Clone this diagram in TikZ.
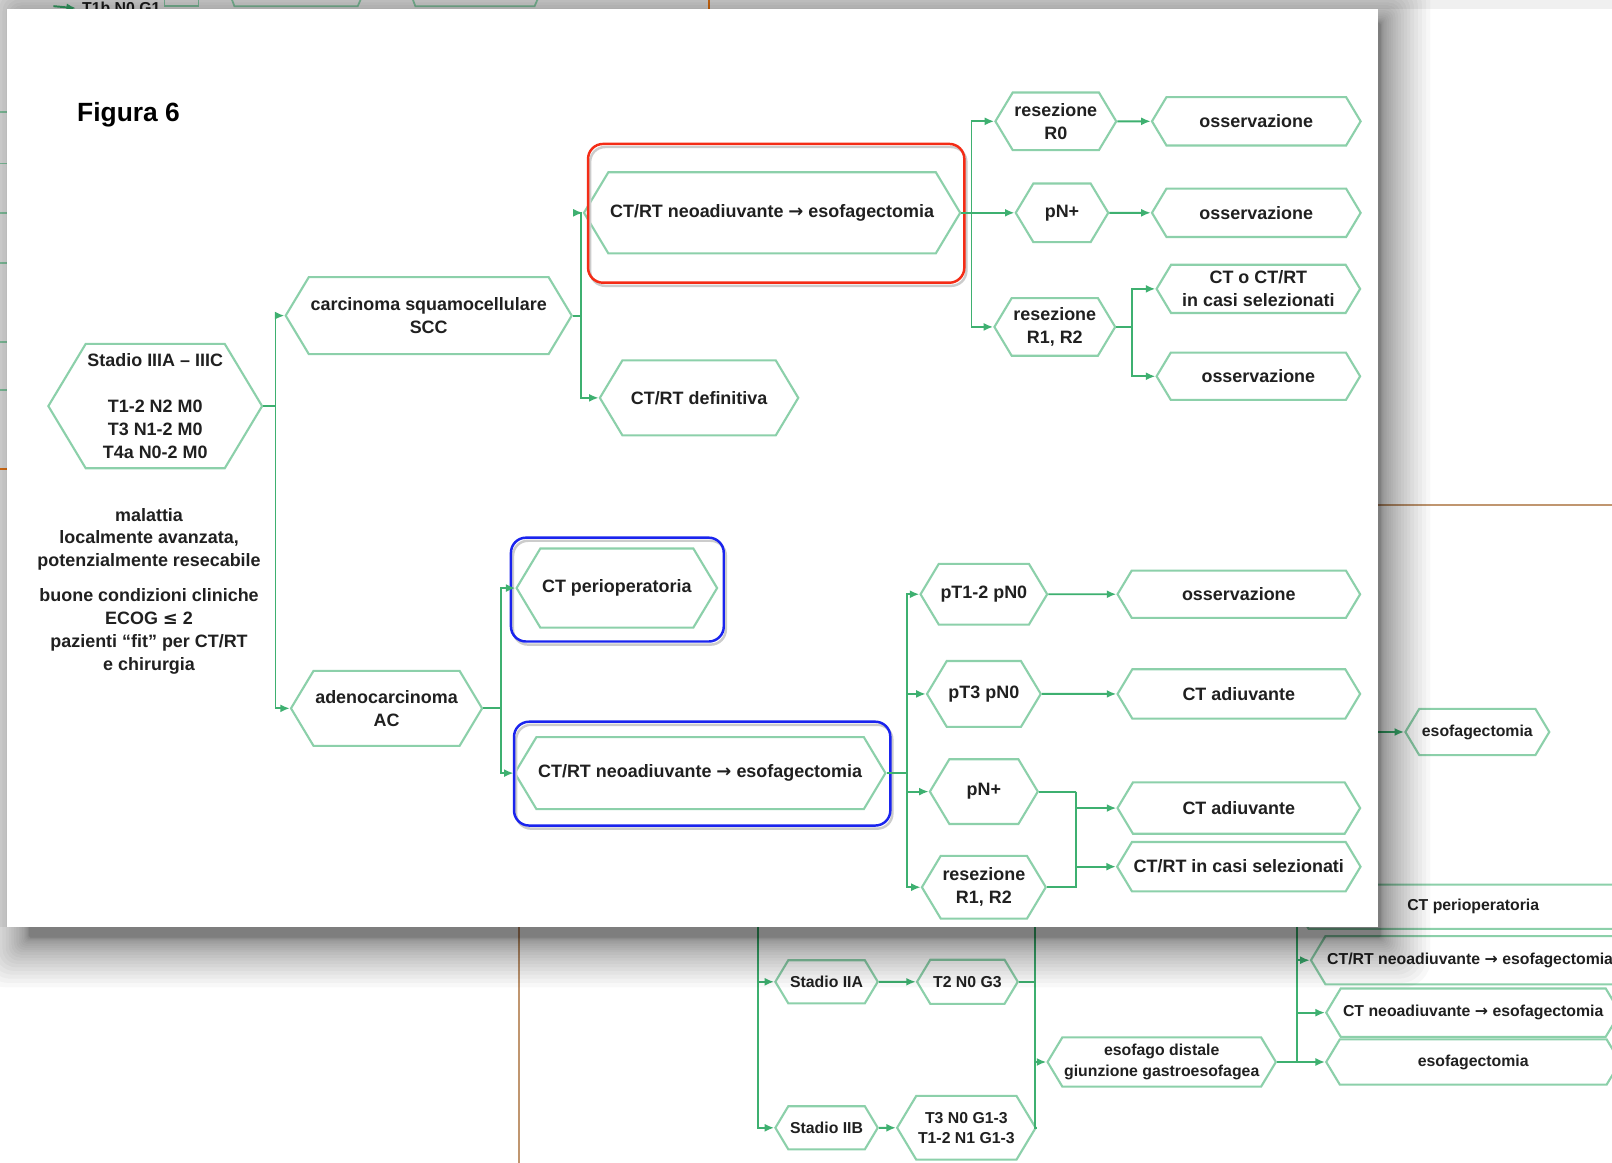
\documentclass[tikz,border=0pt]{standalone}
\usepackage{fontspec}
\setmainfont{Liberation Sans}
\newfontfamily\arrowfont{DejaVu Sans}
\usetikzlibrary{arrows.meta,positioning,shapes.symbols}
\definecolor{flowGreen}{RGB}{62,176,112}
\definecolor{hexBorder}{RGB}{140,208,170}
\definecolor{boxRed}{RGB}{244,44,22}
\definecolor{boxBlue}{RGB}{26,36,238}
\definecolor{slideOrange}{RGB}{236,122,24}
\definecolor{slideTan}{RGB}{192,150,112}
\definecolor{inkGray}{RGB}{32,32,32}
\newcommand{\goesto}{{\arrowfont\bfseries →}}
\tikzset{
  hexa/.style 2 args={shape=signal, signal to=west and east, signal pointer angle=118,
    draw=hexBorder, line width=1.2pt, fill=white, inner sep=1pt, align=center,
    minimum width=#1*0.02056cm, minimum height=#2*0.02056cm,
    text=inkGray, font=\fontsize{10.2}{13}\selectfont\bfseries},
  bghexa/.style 2 args={hexa={#1}{#2}, font=\fontsize{9}{11.5}\selectfont\bfseries},
  link/.style={draw=flowGreen, line width=1.1pt},
  arr/.style={link, -{Latex[length=1.9mm,width=1.6mm]}},
  hilite/.style={rounded corners=0.3cm, line width=1.4pt},
}

\begin{document}
\begin{tikzpicture}[x=0.02056cm,y=-0.02056cm]
  \clip (0,0) rectangle (1568,1131);
  \fill[white] (0,0) rectangle (1568,1131);

  % slide behind the window
  \fill[black!6] (0,0) rectangle (1568,9);
  \fill[black!6] (0,0) rectangle (7,902);
  \draw[slideOrange,line width=1pt] (690,0) -- (690,9);
  \draw[slideOrange,line width=1pt] (0,456) -- (7,456);
  \draw[slideTan,line width=1pt] (1340,491) -- (1568,491);
  \draw[slideTan,line width=1pt] (505,902) -- (505,1131);
  \draw[hexBorder,line width=1pt] (160,-10) -- (160,6) -- (193,6) -- (193,-10);
  \draw[hexBorder,line width=1pt] (222,-10) -- (228,6) -- (348,6) -- (355,-10);
  \draw[hexBorder,line width=1pt] (398,-10) -- (404,6) -- (520,6) -- (527,-10);
  \node[font=\fontsize{9}{11}\selectfont\bfseries,text=inkGray] (frag) at (118,8) {T1b N0 G1};
  \coordinate (fragin) at (52,6);
  \draw[arr] (fragin) -- (frag.west);
  \foreach \yy in {109,159,207,256,333,379}
    \draw[hexBorder,line width=1pt] (0,\yy) -- (7,\yy);

  \node[bghexa={84}{42}] (stIIA) at (804,955) {Stadio IIA};
  \node[bghexa={98}{43}] (tIIA) at (941,955) {T2 N0 G3};
  \node[bghexa={84}{42}] (stIIB) at (804,1097) {Stadio IIB};
  \node[bghexa={100}{62}] (tIIB) at (940,1097) {T3 N0 G1-3\\T1-2 N1 G1-3};
  \node[bghexa={210}{48}] (distal) at (1130,1033) {esofago distale\\giunzione gastroesofagea};
  \node[bghexa={346}{43}] (periB) at (1433,882) {CT perioperatoria};
  \node[bghexa={290}{47}] (ctrtB) at (1430,934) {CT/RT neoadiuvante \goesto{} esofagectomia};
  \node[bghexa={286}{47}] (ctneoB) at (1433,985) {CT neoadiuvante \goesto{} esofagectomia};
  \node[bghexa={286}{44}] (esofB) at (1433,1033) {esofagectomia};
  \node[bghexa={140}{45}] (esofR) at (1437,712) {esofagectomia};
  \coordinate (bgA) at (737,880);
  \coordinate (bgB) at (1007,880);
  \coordinate (bgC) at (1262,880);
  \coordinate (bgR) at (1320,712);
  \draw[arr] (bgA) |- (stIIA.west);
  \draw[arr] (bgA) |- (stIIB.west);
  \draw[arr] (stIIA) -- (tIIA);
  \draw[arr] (stIIB) -- (tIIB);
  \draw[link] (tIIA.east) -- (tIIA.east -| bgB);
  \draw[link] (bgB) |- (tIIB.east);
  \draw[arr] (bgB) |- (distal.west);
  \draw[link] (distal.east) -- (distal.east -| bgC);
  \draw[arr] (bgC) |- (ctrtB.west);
  \draw[arr] (bgC) |- (ctneoB.west);
  \draw[arr] (bgC) |- (esofB.west);
  \draw[arr] (bgR) -- (esofR.west);

  % window shadow and card
  \foreach \i in {0,...,22}{
    \pgfmathsetmacro{\rr}{0.1*\i*\i}
    \fill[black,opacity=0.026,rounded corners=\rr*0.3pt+1pt]
      (28-\rr,22-\rr) rectangle (1343+\rr,912+\rr);
  }
  \fill[white] (7,9) rectangle (1340,902);

  \node[font=\fontsize{15}{17}\selectfont\bfseries] (title) at (125,112) {Figura 6};

  \node[hexa={198}{121}] (stadio) at (151,395) {Stadio IIIA -- IIIC\\[13pt]T1-2 N2 M0\\T3 N1-2 M0\\T4a N0-2 M0};
  \node[align=center,text=inkGray,font=\fontsize{10.2}{13}\selectfont\bfseries] (cond) at (145,575)
    {malattia\\localmente avanzata,\\potenzialmente resecabile\\[7pt]buone condizioni cliniche\\ECOG {\arrowfont\bfseries ≤} 2\\pazienti ``fit'' per CT/RT\\e chirurgia};

  \node[hexa={261}{75}] (scc) at (417,307) {carcinoma squamocellulare\\SCC};
  \node[hexa={179}{73}] (ac) at (376,689) {adenocarcinoma\\AC};
  \node[hexa={340}{79}] (ctrtA) at (751,207) {CT/RT neoadiuvante \goesto{} esofagectomia};
  \node[hexa={193}{73}] (ctrtdef) at (680,387) {CT/RT definitiva};
  \node[hexa={103}{56}] (rzero) at (1027,118) {resezione\\R0};
  \node[hexa={90}{57}] (pnA) at (1033,207) {pN+};
  \node[hexa={101}{56}] (rposA) at (1026,318) {resezione\\R1, R2};
  \node[hexa={203}{47}] (obsA) at (1222,118) {osservazione};
  \node[hexa={203}{47}] (obsB) at (1222,207) {osservazione};
  \node[hexa={198}{47}] (ctsel) at (1224,281) {CT o CT/RT\\in casi selezionati};
  \node[hexa={198}{46}] (obsC) at (1224,366) {osservazione};

  \node[hexa={178}{77}] (ctperi) at (600,572) {CT perioperatoria};
  \node[hexa={353}{70}] (ctrtB2) at (681,752) {CT/RT neoadiuvante \goesto{} esofagectomia};
  \node[hexa={105}{59}] (ptA) at (957,578) {pT1-2 pN0};
  \node[hexa={105}{64}] (ptB) at (957,675) {pT3 pN0};
  \node[hexa={105}{63}] (pnB) at (957,770) {pN+};
  \node[hexa={103}{61}] (rposB) at (957,863) {resezione\\R1, R2};
  \node[hexa={236}{46}] (obsD) at (1205,578) {osservazione};
  \node[hexa={236}{48}] (ctadA) at (1205,675) {CT adiuvante};
  \node[hexa={236}{50}] (ctadB) at (1205,786) {CT adiuvante};
  \node[hexa={236}{48}] (ctrtsel) at (1205,843) {CT/RT in casi selezionati};

  % highlight frames
  \draw[hilite,draw=black!20] (574,143) rectangle (940,278);
  \draw[hilite,draw=boxRed] (572,140) rectangle (938,275);
  \draw[hilite,draw=black!20] (499,526) rectangle (706,627);
  \draw[hilite,draw=boxBlue] (497,523) rectangle (704,624);
  \draw[hilite,draw=black!20] (502,705) rectangle (868,806);
  \draw[hilite,draw=boxBlue] (500,702) rectangle (866,803);

  % connectors
  \coordinate (jA) at (268,395);
  \coordinate (jB) at (565,307);
  \coordinate (jC) at (945,207);
  \coordinate (jD) at (1101,318);
  \coordinate (jE) at (487,689);
  \coordinate (jF) at (882,752);
  \coordinate (jG) at (1047,770);
  \draw[link] (stadio.east) -- (jA);
  \draw[arr] (jA) |- (scc.west);
  \draw[arr] (jA) |- (ac.west);
  \draw[link] (scc.east) -- (jB);
  \draw[arr] (jB) |- (ctrtA.west);
  \draw[arr] (jB) |- (ctrtdef.west);
  \draw[link] (ctrtA.east) -- (jC);
  \draw[arr] (jC) |- (rzero.west);
  \draw[arr] (jC) -- (pnA.west);
  \draw[arr] (jC) |- (rposA.west);
  \draw[arr] (rzero) -- (obsA);
  \draw[arr] (pnA) -- (obsB);
  \draw[link] (rposA.east) -- (jD);
  \draw[arr] (jD) |- (ctsel.west);
  \draw[arr] (jD) |- (obsC.west);
  \draw[link] (ac.east) -- (jE);
  \draw[arr] (jE) |- (ctperi.west);
  \draw[arr] (jE) |- (ctrtB2.west);
  \draw[link] (ctrtB2.east) -- (jF);
  \draw[arr] (jF) |- (ptA.west);
  \draw[arr] (jF) |- (ptB.west);
  \draw[arr] (jF) |- (pnB.west);
  \draw[arr] (jF) |- (rposB.west);
  \draw[arr] (ptA) -- (obsD);
  \draw[arr] (ptB) -- (ctadA);
  \draw[link] (pnB.east) -- (jG);
  \draw[link] (rposB.east) -| (jG);
  \draw[arr] (jG) |- (ctadB.west);
  \draw[arr] (jG) |- (ctrtsel.west);
\end{tikzpicture}
\end{document}
